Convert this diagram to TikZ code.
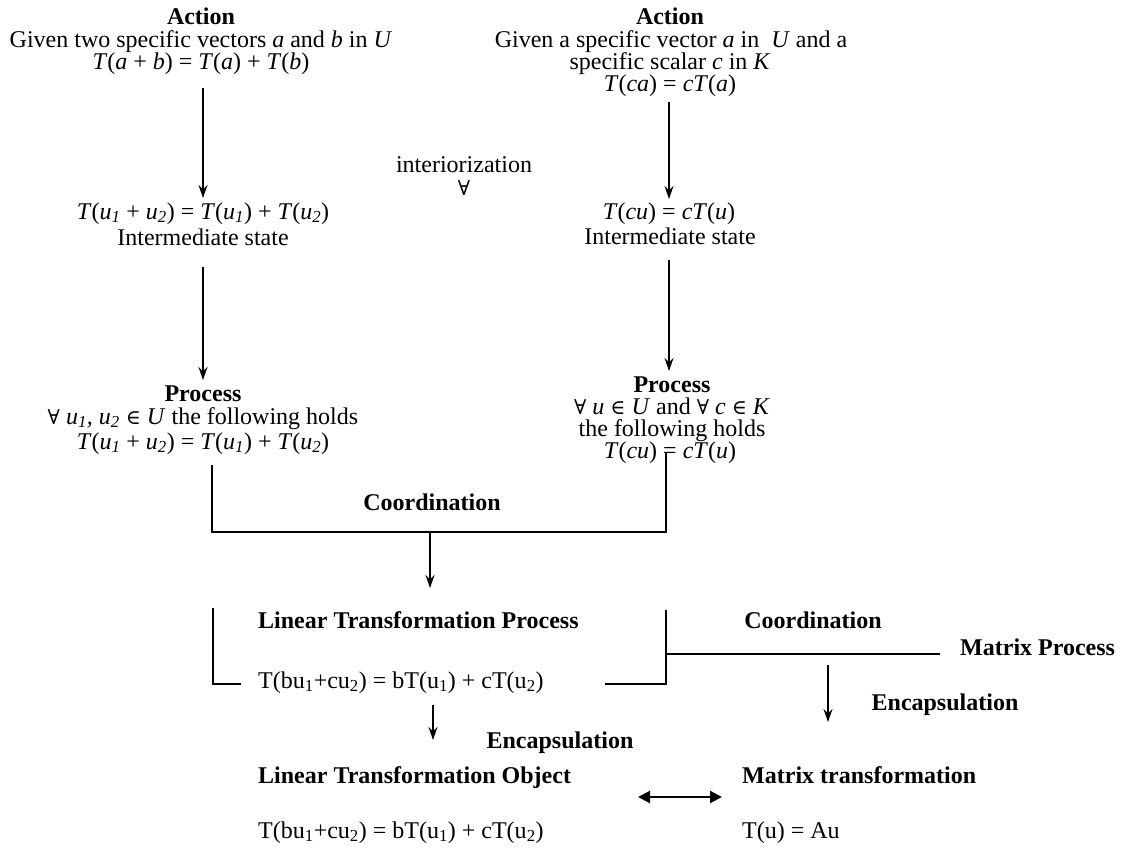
\documentclass[tikz,border=0pt]{standalone}
\usepackage{fontspec}
\setmainfont{Liberation Serif}
\newfontfamily\symf{DejaVu Serif}[Scale=0.85]
\usetikzlibrary{arrows.meta}
\newcommand{\fa}{{\symf ∀}}
\newcommand{\isin}{{\symf ∈}}
\newcommand{\sub}[1]{\textsubscript{#1}}
\tikzset{
  txt/.style={inner sep=0pt, font=\fontsize{24}{24}\selectfont, anchor=base},
  txtl/.style={txt, anchor=base west},
  bld/.style={txt, font=\fontsize{24}{24}\selectfont\bfseries},
  bldl/.style={bld, anchor=base west},
  conn/.style={line width=1.4pt},
  arr/.style={conn, -{Stealth[length=13pt,width=9pt]}},
  darr/.style={line width=2.2pt, {Triangle[length=12pt,width=12pt]}-{Triangle[length=12pt,width=12pt]}},
}
\begin{document}
\begin{tikzpicture}[x=1pt,y=-1pt]
\useasboundingbox (0,0) rectangle (1128,848);
% left column
\node[bld] (la1) at (201,25) {Action};
\node[txt] (la2) at (201,48) {Given two specific vectors \textit{a} and \textit{b} in \textit{U}};
\node[txt] (la3) at (201,70) {\textit{T}(\textit{a} + \textit{b}) = \textit{T}(\textit{a}) + \textit{T}(\textit{b})};
\node[txt] (li1) at (203,219) {\textit{T}(\textit{u\sub{1}} + \textit{u\sub{2}}) = \textit{T}(\textit{u\sub{1}}) + \textit{T}(\textit{u\sub{2}})};
\node[txt] (li2) at (203,245) {Intermediate state};
\node[bld] (lp1) at (203,401) {Process};
\node[txt] (lp2) at (203,424) {\fa\ \textit{u\sub{1}, u\sub{2}} \isin\ \textit{U} the following holds};
\node[txt] (lp3) at (203,449) {\textit{T}(\textit{u\sub{1}} + \textit{u\sub{2}}) = \textit{T}(\textit{u\sub{1}}) + \textit{T}(\textit{u\sub{2}})};
% right column
\node[bld] (ra1) at (670,25) {Action};
\node[txt] (ra2) at (671,48) {Given a specific vector \textit{a} in\ \ \textit{U} and a};
\node[txt] (ra3) at (670,70) {specific scalar \textit{c} in \textit{K}};
\node[txt] (ra4) at (670,92) {\textit{T}(\textit{ca}) = \textit{cT}(\textit{a})};
\node[txt] (ri1) at (669,219) {\textit{T}(\textit{cu}) = \textit{cT}(\textit{u})};
\node[txt] (ri2) at (670,244) {Intermediate state};
\node[bld] (rp1) at (672,392) {Process};
\node[txt] (rp2) at (672,414) {\fa\ \textit{u} \isin\ \textit{U} and \fa\ \textit{c} \isin\ \textit{K}};
\node[txt] (rp3) at (672,436) {the following holds};
\node[txt] (rp4) at (670,458) {\textit{T}(\textit{cu}) = \textit{cT}(\textit{u})};
% middle
\node[txt] (int1) at (464,173) {interiorization};
\node[txt] (int2) at (464,196) {\fa};
% vertical arrows
\coordinate (a1s) at (203,88);  \coordinate (a1e) at (203,198);
\coordinate (a2s) at (203,267); \coordinate (a2e) at (203,380);
\coordinate (a3s) at (669,102); \coordinate (a3e) at (669,199);
\coordinate (a4s) at (669,260); \coordinate (a4e) at (669,371);
\draw[arr] (a1s) -- (a1e);
\draw[arr] (a2s) -- (a2e);
\draw[arr] (a3s) -- (a3e);
\draw[arr] (a4s) -- (a4e);
% coordination bracket
\coordinate (cl) at (212,465);
\coordinate (cr) at (666,453);
\coordinate (cm) at (430,532);
\coordinate (ce) at (430,588);
\draw[conn] (cl) |- (cm) -| (cr);
\draw[arr] (cm) -- (ce);
\node[bld] (coord1) at (432,510) {Coordination};
% linear transformation process
\node[bldl] (ltp) at (258,628) {Linear Transformation Process};
\node[txtl] (ltpe) at (258,688) {T(bu\sub{1}+cu\sub{2}) = bT(u\sub{1}) + cT(u\sub{2})};
\coordinate (lb1) at (213,608); \coordinate (lb2) at (241,684);
\draw[conn] (lb1) |- (lb2);
\coordinate (rb1) at (605,684); \coordinate (rb2) at (666,610);
\draw[conn] (rb1) -| (rb2);
\coordinate (hm1) at (666,654); \coordinate (hm2) at (940,654);
\draw[conn] (hm1) -- (hm2);
\node[bld] (coord2) at (813,628) {Coordination};
\node[bldl] (mp) at (960,655) {Matrix Process};
\coordinate (m1) at (828,665); \coordinate (m2) at (828,722);
\draw[arr] (m1) -- (m2);
\node[bld] (enc2) at (945,710) {Encapsulation};
\coordinate (e1) at (433,705); \coordinate (e2) at (433,740);
\draw[arr] (e1) -- (e2);
\node[bld] (enc1) at (560,748) {Encapsulation};
% objects
\node[bldl] (lto) at (258,783) {Linear Transformation Object};
\node[bldl] (mt) at (742,783) {Matrix transformation};
\node[txtl] (ltoe) at (258,838) {T(bu\sub{1}+cu\sub{2}) = bT(u\sub{1}) + cT(u\sub{2})};
\node[txtl] (mte) at (742,838) {T(u) = Au};
\coordinate (d1) at (638,797); \coordinate (d2) at (722,797);
\draw[darr] (d1) -- (d2);
\end{tikzpicture}
\end{document}
